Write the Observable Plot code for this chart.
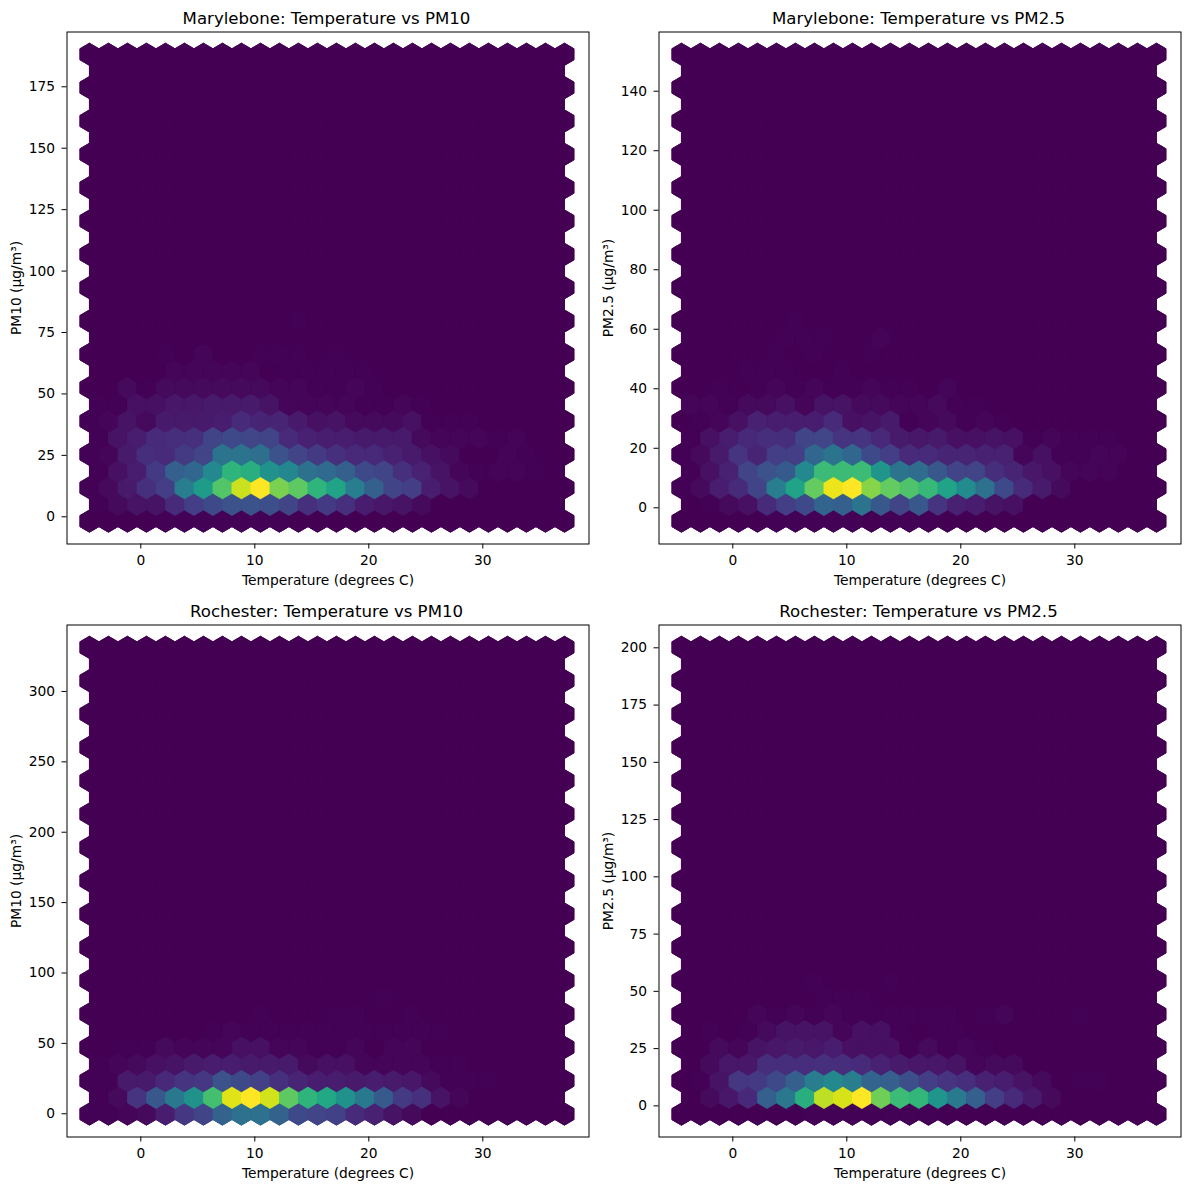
<!DOCTYPE html>
<html>
<head>
<meta charset="utf-8">
<script src="https://cdn.jsdelivr.net/npm/d3@7"></script>
<script src="https://cdn.jsdelivr.net/npm/@observablehq/plot@0.6"></script>
<style>
html,body{margin:0;padding:0;background:#fff;}
#root{position:relative;width:1189px;height:1189px;overflow:hidden;}
#root svg{position:absolute;overflow:visible;}
</style>
</head>
<body>
<div id="root"></div>
<script>
// Bin lattice of the temperature axis (degrees C) and number of rows
const tempFirstBin = -4.505;
const tempBinStep = 1.6667;
const rowCount = 29;

// Hexagon counts, as a percentage of each panel's largest bin; rows run upward from the lowest bin
const maryPM10 = [
  [0,0,0,0,.5,.5,.5,.5,.5,.5,.5,0,0,0,0,0,0,0,0,0,0,0,0,0,0,0],
  [.5,2.5,5,5,12,18,22,25,25,24,20,14,17,14,8,6,5,2.5,0,0,0,0,0,0,0],
  [.5,2.5,7,14,18,42,55,73,92,100,80,75,65,58,42,30,20,18,8,5,2.5,0,0,0,0,0],
  [.5,4,8,17,30,33,47,65,63,50,46,37,34,30,22,20,14,9,5,1.3,.5,1,1,.5,0],
  [.5,1.3,7,13,12,17,20,38,38,36,25,20,17,14,11,11,9,7,4,2.5,0,0,1,.5,0,0],
  [.5,5,8,12,13,14,20,22,21,20,12,9,8,8,7,7,7,2.5,1.3,1.3,1.3,.5,1,0,0],
  [.5,1.3,5,2.5,7,7,7,8,12,10,10,7,4,5,2.5,2.5,2.5,4,.5,.5,.5,0,0,0,0,0],
  [.5,.5,4,4,6,6,7,7,7,5,1.3,1.3,1.3,1.3,.5,.5,1.3,.5,0,0,0,0,0,0,0],
  [0,0,2.5,.5,2.5,2.5,2.5,2.5,2.5,2.5,1.3,1.3,.5,.5,1.3,.5,0,0,0,0,0,0,0,0,0,0],
  [0,0,0,0,1.3,1.3,1.3,1.3,1.3,0,.5,.5,.5,.5,.5,0,0,0,0,0,0,0,0,0,0],
  [0,0,0,0,.5,0,1.3,0,0,.5,.5,.5,0,.5,0,0,0,0,0,0,0,0,0,0,0,0],
  [0,0,0,0,0,.3,.3,.3,.3,0,.3,.3,.3,0,0,0,0,0,0,0,0,0,0,0,0],
  [0,0,0,0,0,0,0,0,0,0,0,.5,0,0,0,0,0,0,0,0,0,0,0,0,0,0]
];
const maryPM25 = [
  [0,0,0,0,0,.5,.5,.5,.5,.5,0,.5,.5,.5,0,0,0,0,0,0,0,0,0,0,0,0],
  [0,.5,2.5,4,12,18,22,32,30,38,27,20,27,15,9,8,5,4,0,0,0,0,0,0,0],
  [.5,2.5,8,12,20,42,58,76,97,100,82,76,72,67,58,48,37,22,12,7,2.5,0,0,0,0,0],
  [.5,4,9,20,25,28,47,68,68,68,52,38,35,27,20,20,13,10,6,4,1.3,1.3,1,0,0],
  [.5,2.5,7,15,10,18,18,33,38,33,22,18,12,12,10,10,9,9,1.3,4,.5,.5,1.3,1,0,0],
  [.5,4,8,11,13,13,20,21,15,15,11,7,6,7,4,4,5,4,.5,1.3,.5,.5,.5,0,0],
  [0,.5,1.3,4,9,8,8,8,12,4,5,7,.5,1.3,2.5,.5,1.3,.5,0,0,0,0,0,0,0,0],
  [1.3,1.3,.5,2.5,2.5,4,1.3,5,5,2.5,2.5,1.3,1.3,2.5,.5,.5,0,0,0,0,0,0,0,0,0],
  [0,0,.5,0,.5,1.3,.5,1.3,.5,.5,1.3,.5,.5,0,1.3,0,0,0,0,0,0,0,0,0,0,0],
  [0,0,0,.5,.5,.5,0,0,.5,0,0,0,0,0,0,0,0,0,0,0,0,0,0,0,0],
  [0,0,0,0,0,.5,0,.5,0,0,.5,0,0,0,0,0,0,0,0,0,0,0,0,0,0,0],
  [0,0,0,0,0,.5,.5,.5,0,0,1,0,0,0,0,0,0,0,0,0,0,0,0,0,0],
  [0,0,0,0,0,0,.5,0,0,0,0,0,0,0,0,0,0,0,0,0,0,0,0,0,0,0]
];
const rochPM10 = [
  [.5,.5,1.3,2.5,8,16,20,31,37,37,31,22,20,19,12,9,5,2.5,0,0,0,0,0,0,0,0],
  [.5,2.5,15,27,40,50,70,95,100,93,75,65,60,50,40,28,17,14,5,1.3,0,0,0,0,0],
  [.5,.5,7,7,11,15,16,25,22,19,14,10,8,8,7,8,7,6,2.5,.5,.5,.5,0,0,0,0],
  [.5,1.3,2.5,4,5,7,8,8,7,7,7,2.5,4,4,1.3,1.3,1.3,1.3,.5,.5,0,0,0,0,0],
  [0,0,.5,.5,2.5,1.3,1.3,1.3,4,4,1.3,1.3,.5,.5,1.3,0,1.3,1.3,0,0,0,0,0,0,0,0],
  [0,0,0,0,0,0,.5,1.3,.5,.5,.5,.5,.5,.5,.5,.5,.5,.5,.5,0,0,0,0,0,0],
  [0,0,0,0,0,0,0,0,0,.5,0,0,0,.5,.5,0,0,.5,0,0,0,0,0,0,0,0],
  [0,0,0,0,0,0,0,0,0,0,0,0,0,0,0,.5,0,0,0,0,0,0,0,0,0]
];
const rochPM25 = [
  [0,0,0,0,0,0,0,.5,.5,.5,.5,.5,.5,.5,0,0,0,0,0,0,0,0,0,0,0,0],
  [0,2.5,6,11,30,40,63,90,94,100,78,68,66,52,41,30,18,12,7,2.5,0,0,0,0,0],
  [0,.5,5,16,17,22,30,42,47,42,32,30,24,18,15,13,9,8,5,2.5,0,.5,.5,0,0,0],
  [0,2.5,6,6,13,13,13,14,13,12,9,7,6,6,5,1.3,2.5,2.5,0,0,0,0,0,0,0],
  [0,0,2.5,1.3,5,6,7,6,8,4,4,4,.5,2.5,.5,1.3,.5,0,0,0,0,0,0,0,0,0],
  [0,.5,0,.5,2.5,5,5,5,1.3,4,4,.5,0,.5,.5,0,0,0,0,0,0,0,0,0,0],
  [0,0,0,0,1.3,.5,1.3,.5,1.3,.5,.5,.5,.5,.5,.5,0,.5,1.5,0,0,0,.5,0,0,0,0],
  [0,0,0,0,0,0,0,.5,.5,.5,0,0,0,0,0,0,0,0,0,0,0,0,0,0,0],
  [0,0,0,0,0,0,0,.5,0,0,0,.5,0,0,0,0,0,0,0,0,0,0,0,0,0,0]
];

const titles = ["Marylebone: Temperature vs PM10","Marylebone: Temperature vs PM2.5","Rochester: Temperature vs PM10","Rochester: Temperature vs PM2.5"];
const yLabels = ["PM10 (μg/m³)","PM2.5 (μg/m³)","PM10 (μg/m³)","PM2.5 (μg/m³)"];
const xLabel = "Temperature (degrees C)";
const xTicks = [0,10,20,30];
const xDomain = [-6.474,39.316];
const yTicks = [
  [0,25,50,75,100,125,150,175],
  [0,20,40,60,80,100,120,140],
  [0,50,100,150,200,250,300],
  [0,25,50,75,100,125,150,175,200]
];
const yDomains = [[-11.07,197.3],[-12.17,159.9],[-16.5,347.2],[-13.6,209.96]];
const yFirstBin = [-1.75,-4.47,-0.2,-3.62];
const yBinStep = [6.785,5.603,11.84,7.28];
const panelRows = [maryPM10,maryPM25,rochPM10,rochPM25];

// Stretched hexagon, as matplotlib's hexbin draws it on unequal axes
const hexagon = {
  draw(ctx) {
    const w = 9.5, h = 11.1;
    ctx.moveTo(0,-h);
    ctx.lineTo(w,-h/2);
    ctx.lineTo(w,h/2);
    ctx.lineTo(0,h);
    ctx.lineTo(-w,h/2);
    ctx.lineTo(-w,-h/2);
    ctx.closePath();
  }
};

function binsFor(i) {
  const out = [];
  for (let r = 0; r < rowCount; r++) {
    const odd = r % 2 === 1;
    const n = odd ? 25 : 26;
    for (let k = 0; k < n; k++) {
      const row = panelRows[i][r];
      out.push({
        temp: tempFirstBin + tempBinStep * (k + (odd ? 0.5 : 0)),
        pm: yFirstBin[i] + yBinStep[i] * r,
        value: row ? (row[k] || 0) : 0
      });
    }
  }
  return out;
}

const root = document.getElementById("root");
const panelSize = [592,593];
titles.forEach((title,i) => {
  const bins = binsFor(i);
  const hexOptions = {x:"temp", y:"pm", symbol:hexagon, r:10, fill:"value", stroke:"value", strokeWidth:0.8, strokeLinejoin:"round"};
  const svg = Plot.plot({
    width: panelSize[0],
    height: panelSize[1],
    marginLeft: 66.5,
    marginRight: 3.5,
    marginTop: 31.5,
    marginBottom: 49.5,
    style: {fontFamily:"DejaVu Sans", fontSize:"13.8px", color:"#000", background:"transparent"},
    x: {domain:xDomain, ticks:xTicks, tickFormat:d=>String(d), label:xLabel, labelAnchor:"center", labelArrow:"none", labelOffset:41, tickSize:5, tickPadding:6},
    y: {domain:yDomains[i], ticks:yTicks[i], tickFormat:d=>String(d), label:yLabels[i], labelAnchor:"center", labelArrow:"none", labelOffset:56, tickSize:5, tickPadding:7},
    color: {type:"linear", scheme:"viridis", domain:[0,100]},
    marks: [
      Plot.dot(bins, hexOptions),
      Plot.dot(bins, hexOptions),
      Plot.frame({stroke:"#000", strokeWidth:1}),
      Plot.text([title], {frameAnchor:"top", lineAnchor:"bottom", dy:-8, dx:-1.5, fontSize:16.6, fill:"#000"})
    ]
  });
  svg.style.left = (i % 2 ? 592 : 0) + "px";
  svg.style.top = (i > 1 ? 593 : 0) + "px";
  root.appendChild(svg);
});
</script>
</body>
</html>
